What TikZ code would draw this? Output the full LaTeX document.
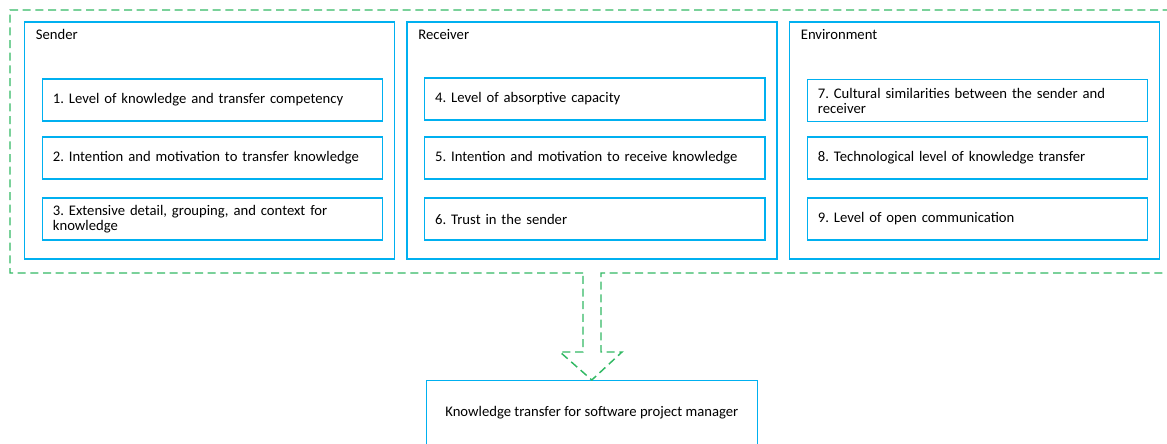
\documentclass[tikz,border=0pt]{standalone}
\usepackage{fontspec}
\setmainfont{Carlito}
\frenchspacing
\usetikzlibrary{positioning}
\definecolor{BoxBlue}{RGB}{0,176,240}
\definecolor{DashGreen}{RGB}{50,185,100}
\tikzset{
  group/.style={draw=BoxBlue,line width=1pt,rectangle,minimum width=277.5pt,minimum height=177.75pt,inner sep=0pt},
  factor/.style={draw=BoxBlue,line width=1pt,rectangle,minimum width=255.4pt,minimum height=31.5pt,text width=239.4pt,align=left,inner xsep=8pt,inner ysep=0pt,font=\fontsize{11}{11.5}\selectfont},
  grouptitle/.style={anchor=west,inner sep=0pt,font=\fontsize{11}{12}\selectfont},
  flow/.style={draw=DashGreen,line width=1.1pt,dash pattern=on 6pt off 3.5pt}
}
\begin{document}
\begin{tikzpicture}[x=0.75pt,y=-0.75pt]
  \useasboundingbox (0,0) rectangle (1167,443);
  % three groups of factors
  \node[group] (sender) at (209.5,140.5) {};
  \node[group] (receiver) at (592,140.5) {};
  \node[group] (environment) at (974.5,140.5) {};
  \node[grouptitle] (sendertitle) at ([xshift=8.8pt,yshift=-9.75pt]sender.north west) {Sender};
  \node[grouptitle] (receivertitle) at ([xshift=8.8pt,yshift=-9.75pt]receiver.north west) {Receiver};
  \node[grouptitle] (environmenttitle) at ([xshift=8.8pt,yshift=-9.75pt]environment.north west) {Environment};
  % sender
  \node[factor] (f1) at (212.5,100) {1. Level of knowledge and transfer competency};
  \node[factor] (f2) at (212.5,158) {2. Intention and motivation to transfer knowledge};
  \node[factor] (f3) at (212.5,219) {3. Extensive detail, grouping, and context for\\knowledge};
  % receiver
  \node[factor] (f4) at (594.7,99) {4. Level of absorptive capacity};
  \node[factor] (f5) at (594.7,158) {5. Intention and motivation to receive\ knowledge};
  \node[factor] (f6) at (594.7,219) {6. Trust in the sender};
  % environment
  \node[factor] (f7) at (977.5,100.8) {7. Cultural similarities between the sender and\\receiver};
  \node[factor] (f8) at (977.5,158) {8. Technological level of knowledge transfer};
  \node[factor] (f9) at (977.5,219) {9. Level of open communication};
  % outcome
  \node[draw=BoxBlue,line width=1pt,minimum width=248.25pt,minimum height=52.5pt,anchor=north,inner ysep=0pt,text depth=7pt,font=\fontsize{11}{12}\selectfont] (goal) at (591.8,380) {Knowledge transfer for software project manager};
  % dashed frame running into the arrow
  \coordinate (tip) at (goal.north);
  \draw[flow] (583,273) -- (10,273) -- (10,10) -- (1175,10)
    (1175,273) -- (601,273) -- (601,352) -- (622,352) -- (tip) -- (560,352) -- (583,352) -- (583,273);
\end{tikzpicture}
\end{document}
